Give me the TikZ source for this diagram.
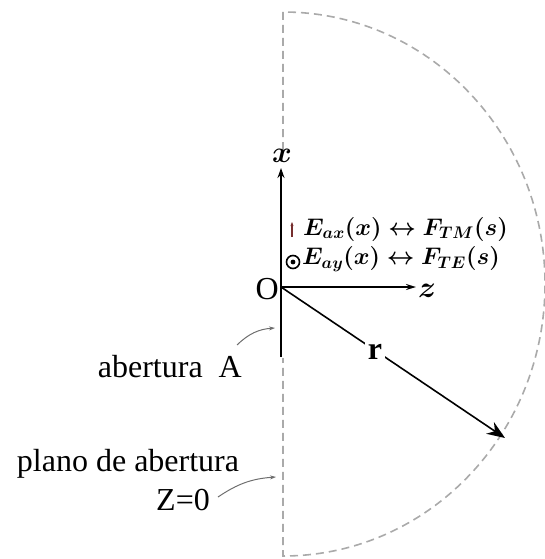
\RequirePackage{fix-cm}
\documentclass[tikz,border=0pt]{standalone}
\usepackage{amsmath,bm}
\usepackage{fontspec}
\setmainfont{Liberation Serif}
\usetikzlibrary{arrows.meta}
\definecolor{dashgray}{RGB}{170,170,170}
\definecolor{ptgray}{RGB}{110,110,110}
\tikzset{
  boundary/.style={dashgray, line width=1.6pt, dash pattern=on 8pt off 5pt},
  axisline/.style={black, line width=2pt},
  pointer/.style={ptgray, line width=1pt, -{Stealth[length=6pt,width=4pt]}},
  lbl/.style={font=\fontsize{32}{34}\selectfont, inner sep=0pt},
  axlbl/.style={font=\fontsize{30}{32}\selectfont, inner sep=0pt},
  eq/.style={font=\fontsize{24}{26}\selectfont, inner sep=0pt, anchor=west},
}
\begin{document}
\begin{tikzpicture}[x=1pt,y=-1pt]
\useasboundingbox (0,0) rectangle (544,559);
% coordinates
\coordinate (O) at (281,287);
\coordinate (xtip) at (281,168);
\coordinate (ztip) at (416,287);
\coordinate (rtip) at (505,438);
\coordinate (apbot) at (281,357);
\coordinate (top) at (283,12);
\coordinate (bot) at (283,556);
\coordinate (dtop) at (283,150);
\coordinate (dbot) at (283,358);
% boundary
\draw[boundary] (dtop) -- (top) arc[start angle=-90, end angle=90, x radius=262, y radius=272] -- (dbot);
% aperture and axes
\draw[axisline] (O) -- (apbot);
\draw[axisline, -{Stealth[length=10pt,width=7pt,fill=ptgray]}] (O) -- (xtip);
\draw[axisline, line width=1.6pt, -{Stealth[length=10pt,width=6pt,fill=ptgray]}] (O) -- (ztip);
\node[axlbl] (xl) at (282,156) {$\bm{x}$};
\node[axlbl] (zl) at (427,291) {$\bm{z}$};
\node[lbl, anchor=east] (Ol) at (279,289) {O};
% r vector
\draw[line width=1.6pt, -{Stealth[length=18pt,width=14pt]}] (O) -- (rtip);
\node[lbl, fill=white, inner sep=3pt, font=\fontsize{32}{34}\selectfont\bfseries] (rl) at (375,352) {r};
% field labels
\draw[ptgray!60!red!70!black, line width=1.2pt, -{Stealth[length=4pt,width=3pt]}] (292,237) -- (292,222);
\node[draw=black, line width=1.6pt, circle, minimum size=13pt, inner sep=0pt] (dotc) at (293,262) {};
\fill (dotc) circle (2.4pt);
\node[eq] (e1) at (303,229) {$\bm{E_{ax}(x) \leftrightarrow F_{TM}(s)}$};
\node[eq] (e2) at (302,259) {$\bm{E_{ay}(x) \leftrightarrow F_{TE}(s)}$};
% aperture label
\node[lbl, anchor=east] (ap) at (242,367) {abertura\ \ A};
\coordinate (apin) at (275,328);
\draw[pointer] (237,345) to[bend left=20] (apin);
% plane label
\node[lbl] (pl) at (128,464) {plano de abertura};
\node[lbl, anchor=east] (z0) at (210,500) {Z=0};
\coordinate (plin) at (276,477);
\draw[pointer] (218,497) to[bend left=15] (plin);
\end{tikzpicture}
\end{document}
